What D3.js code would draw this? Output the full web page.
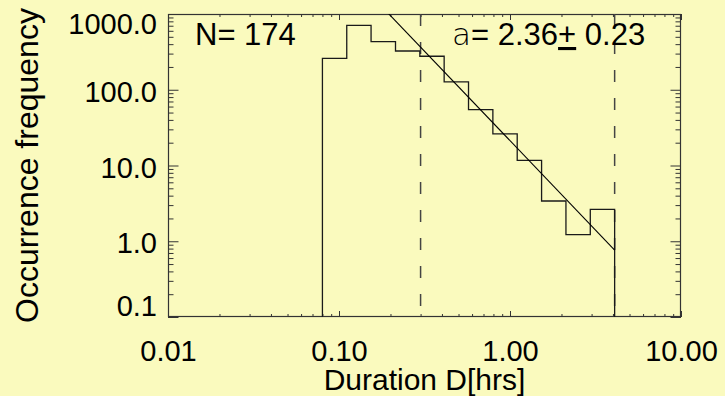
<!DOCTYPE html>
<html>
<head>
<meta charset="utf-8">
<script src="https://cdn.jsdelivr.net/npm/d3@7"></script>
<style>
  html, body { margin: 0; padding: 0; background: #FAFABE; }
  svg { display: block; }
  text { font-family: "Liberation Sans", Arial, Helvetica, sans-serif; fill: #000; }
</style>
</head>
<body>
<svg id="chart" width="725" height="396"></svg>
<script>
// ---- data ----
const binEdges = [0.080, 0.111, 0.154, 0.214, 0.297, 0.412, 0.572, 0.794, 1.102, 1.530, 2.124, 2.948, 4.092];
const binCounts = [260, 709, 431, 325, 277, 127, 54.8, 26.1, 11.7, 3.40, 1.22, 2.64];
const fitX = [0.15, 4.092];
const fitY = [1875, 0.766];
const fitRange = [0.30, 4.092];
const xTickValues = [0.01, 0.1, 1, 10];
const xTickLabels = ["0.01", "0.10", "1.00", "10.00"];
const yTickValues = [0.1, 1, 10, 100, 1000];
const yTickLabels = ["0.1", "1.0", "10.0", "100.0", "1000.0"];
const nEvents = "N= 174";
const alphaText = ["a", "= 2.36", "+", " 0.23"];
const xTitle = "Duration D[hrs]";
const yTitle = "Occurrence frequency";

// ---- layout ----
const pL = 168, pR = 681, pT = 14, pB = 317;
const svg = d3.select("#chart");
const x = d3.scaleLog().domain([0.01, 10]).range([pL, pR]);
const y = d3.scaleLog().domain([0.1, 1000]).range([pB, pT]);

const minorX = [];
[0.01, 0.1, 1].forEach(d => { for (let k = 2; k <= 9; k++) minorX.push(d * k); });
const minorY = [];
[0.1, 1, 10, 100].forEach(d => { for (let k = 2; k <= 9; k++) minorY.push(d * k); });

svg.append("defs").append("clipPath").attr("id", "clip")
  .append("rect").attr("x", pL).attr("y", pT).attr("width", pR - pL).attr("height", pB - pT);

const axisColor = "#333";
const FF = '"Liberation Sans", Arial, sans-serif';
function styleAxis(g) {
  g.select(".domain").remove();
  g.selectAll("line").attr("stroke", axisColor).attr("stroke-width", 1);
}

// bottom axis
svg.append("g").attr("transform", `translate(0,${pB})`)
  .call(d3.axisBottom(x).tickValues(xTickValues).tickSize(-6).tickFormat((d, i) => xTickLabels[i]).tickPadding(0))
  .call(styleAxis)
  .call(g => g.selectAll("text").attr("font-size", 29).attr("dy", null).attr("y", 44)
    .style("font-family", FF).attr("fill", "#000"));
svg.append("g").attr("transform", `translate(0,${pB})`)
  .call(d3.axisBottom(x).tickValues(minorX).tickSize(-3).tickFormat(""))
  .call(styleAxis);
// top axis
svg.append("g").attr("transform", `translate(0,${pT})`)
  .call(d3.axisTop(x).tickValues(xTickValues).tickSize(-6).tickFormat(""))
  .call(styleAxis);
svg.append("g").attr("transform", `translate(0,${pT})`)
  .call(d3.axisTop(x).tickValues(minorX).tickSize(-3).tickFormat(""))
  .call(styleAxis);
// left axis
svg.append("g").attr("transform", `translate(${pL},0)`)
  .call(d3.axisLeft(y).tickValues(yTickValues).tickSize(-10.5).tickFormat((d, i) => yTickLabels[i]).tickPadding(0))
  .call(styleAxis)
  .call(g => g.selectAll("text").attr("font-size", 29).attr("x", -11).attr("dy", null)
    .style("font-family", FF).attr("fill", "#000")
    .attr("y", d => d === 1000 ? 19.5 : (d === 0.1 ? -2 : 11.5)));
svg.append("g").attr("transform", `translate(${pL},0)`)
  .call(d3.axisLeft(y).tickValues(minorY).tickSize(-5.5).tickFormat(""))
  .call(styleAxis);
// right axis
svg.append("g").attr("transform", `translate(${pR},0)`)
  .call(d3.axisRight(y).tickValues(yTickValues).tickSize(-10.5).tickFormat(""))
  .call(styleAxis);
svg.append("g").attr("transform", `translate(${pR},0)`)
  .call(d3.axisRight(y).tickValues(minorY).tickSize(-5.5).tickFormat(""))
  .call(styleAxis);

// frame
svg.append("rect").attr("x", pL + 0.5).attr("y", pT + 0.5)
  .attr("width", pR - pL - 1).attr("height", pB - pT - 1)
  .attr("fill", "none").attr("stroke", axisColor).attr("stroke-width", 1.2);

const plot = svg.append("g").attr("clip-path", "url(#clip)");

// dashed fit range lines
plot.selectAll("line.range").data(fitRange).join("line")
  .attr("class", "range")
  .attr("x1", d => x(d)).attr("x2", d => x(d))
  .attr("y1", pT).attr("y2", pB)
  .attr("stroke", "#444").attr("stroke-width", 1.5)
  .attr("stroke-dasharray", "12,16");

// histogram outline
const histPts = [[binEdges[0], 0.1]];
binCounts.forEach((c, i) => { histPts.push([binEdges[i], c]); histPts.push([binEdges[i + 1], c]); });
histPts.push([binEdges[binEdges.length - 1], 0.1]);
plot.append("path")
  .attr("d", d3.line().x(d => x(d[0])).y(d => y(d[1]))(histPts))
  .attr("fill", "none").attr("stroke", "#1a1a1a").attr("stroke-width", 1.3);

// power-law fit
plot.append("path")
  .attr("d", d3.line().x(d => x(d[0])).y(d => y(d[1]))(fitX.map((v, i) => [v, fitY[i]])))
  .attr("fill", "none").attr("stroke", "#000").attr("stroke-width", 1.1);

// annotations
svg.append("text").attr("x", 195).attr("y", 45).attr("font-size", 31).text(nEvents);
const at = svg.append("text").attr("x", 452).attr("y", 45).attr("font-size", 31);
at.append("tspan").style("font-family", '"DejaVu Sans", sans-serif').style("font-weight", 200).text(alphaText[0]);
at.append("tspan").text(alphaText[1]);
at.append("tspan").style("text-decoration", "underline").text(alphaText[2]);
at.append("tspan").text(alphaText[3]);

// titles
svg.append("text").attr("x", (pL + pR) / 2).attr("y", 390).attr("text-anchor", "middle")
  .attr("font-size", 30).text(xTitle);
svg.append("text").attr("transform", `translate(38,${(pT + pB) / 2}) rotate(-90)`)
  .attr("text-anchor", "middle").attr("font-size", 32).text(yTitle);
</script>
</body>
</html>
